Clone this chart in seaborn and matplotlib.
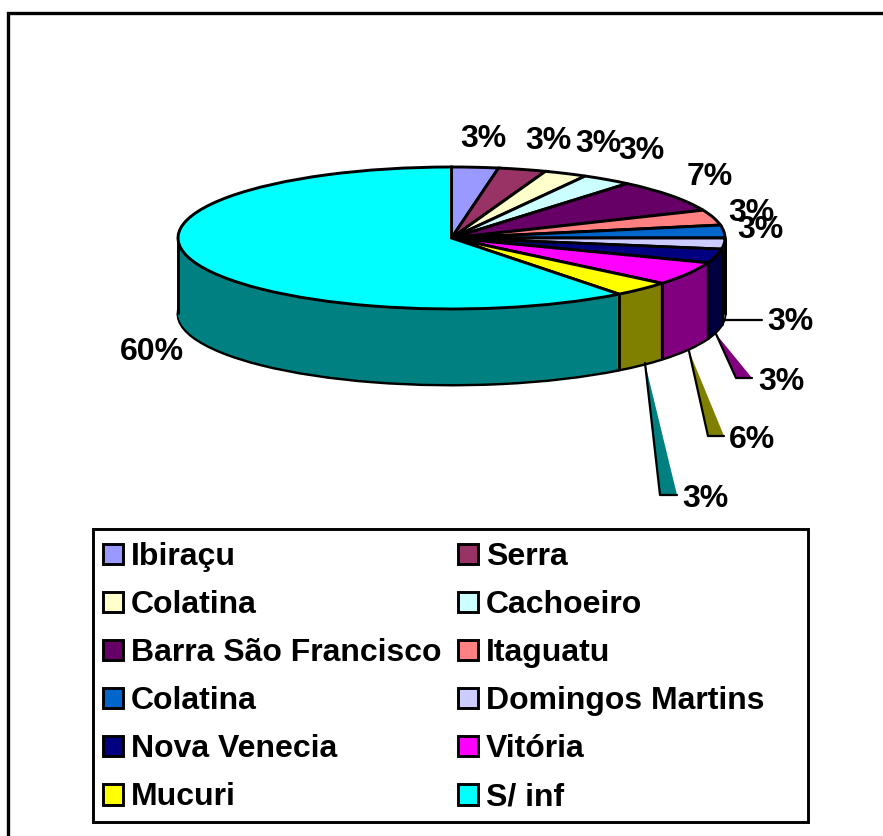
import matplotlib
matplotlib.use("Agg")
import matplotlib.pyplot as plt
from matplotlib.patches import Rectangle
import seaborn as sns
import numpy as np

sns.set_theme(style="white")
plt.rcParams["font.family"] = ["Liberation Sans", "DejaVu Sans"]

categories = ["Ibiraçu", "Serra", "Colatina", "Cachoeiro", "Barra São Francisco", "Itaguatu",
              "Colatina", "Domingos Martins", "Nova Venecia", "Vitória", "Mucuri", "S/ inf"]
values = [2.75, 2.83, 2.55, 2.97, 7.49, 3.49, 2.92, 2.50, 3.17, 5.35, 3.49, 60.49]
hex_colors = ["#9999FF", "#993366", "#FFFFCC", "#CCFFFF", "#660066", "#FF8080",
              "#0066CC", "#CCCCFF", "#000080", "#FF00FF", "#FFFF00", "#00FFFF"]
pct_labels = ["3%", "3%", "3%", "3%", "7%", "3%", "3%", "3%", "3%", "6%", "3%", "60%"]
# left edge / vertical centre of each percent label, in pixels
label_px = [(460, 139), (525, 141), (575, 144), (618, 151), (687, 177), (728, 213),
            (737, 230), (767, 322), (758, 382), (729, 440), (682, 499), (120, 352)]

W, H = 883, 836
CX, CY, RX, RY, DEPTH = 451.5, 238, 273.5, 71, 76
FS = 23
LW = 2.1
dark = "#000000"

palette = sns.color_palette(hex_colors)
wall = [tuple(c / 2 for c in col) for col in palette]

fig = plt.figure(figsize=(W / 100, H / 100), dpi=100, facecolor="white")
ax = fig.add_axes([0, 0, 1, 1])
depth_u = DEPTH / RY

# lower rim, then the extruded wall, then the lit top face
ax.pie(values, colors=wall, startangle=90, counterclock=False, center=(0, -depth_u),
       wedgeprops=dict(edgecolor=dark, linewidth=LW))
for k in np.arange(DEPTH - 1, 0, -1):
    ax.pie(values, colors=wall, startangle=90, counterclock=False, center=(0, -k / RY),
           wedgeprops=dict(edgecolor="none", linewidth=0))
top, _ = ax.pie(values, colors=palette, startangle=90, counterclock=False, center=(0, 0),
                wedgeprops=dict(edgecolor=dark, linewidth=LW))
for w in top:
    w.set_zorder(3)

# vertical seams on the visible wall
seams = {0.0, 180.0}
for w in top:
    for t in (w.theta1 % 360, w.theta2 % 360):
        if 180 <= t <= 360:
            seams.add(t)
for t in seams:
    x = np.cos(np.radians(t))
    y = np.sin(np.radians(t))
    ax.plot([x, x], [y, y - depth_u], color=dark, lw=LW, zorder=2, solid_capstyle="butt")

ax.set_aspect("auto")
ax.set_xlim((0 - CX) / RX, (W - CX) / RX)
ax.set_ylim((CY - H) / RY, CY / RY)
ax.axis("off")

# pixel overlay for leaders, labels and frame
ov = fig.add_axes([0, 0, 1, 1], zorder=5)
ov.set_xlim(0, W)
ov.set_ylim(H, 0)
ov.axis("off")
ov.patch.set_alpha(0)

ov.plot([8, 8, W], [H, 13, 13], color=dark, lw=2.4, solid_joinstyle="miter")

leaders = [
    ([645, 660, 677], [363, 495, 495], "#008080"),
    ([689, 708, 724], [351, 436, 436], "#808000"),
    ([716, 736, 752], [334, 378, 378], "#800080"),
]
for xs, ys, c in leaders:
    ov.fill(xs, ys, color=c, lw=0)
    ov.plot(xs, ys, color=dark, lw=1.6)
ov.plot([724, 762], [320, 320], color=dark, lw=1.6)

for txt, (x, y) in zip(pct_labels, label_px):
    ov.text(x, y, txt, fontsize=FS, fontweight="bold", color=dark, ha="left", va="center")

# legend frame and entries (two columns reading across rows)
ov.add_patch(Rectangle((93, 529), 715, 293, facecolor="white", edgecolor=dark, lw=LW, zorder=4))
order = [0, 2, 4, 6, 8, 10, 1, 3, 5, 7, 9, 11]
leg = ov.legend([top[i] for i in order], [categories[i] for i in order], ncol=2,
                loc="upper left", bbox_to_anchor=(92 / W, 1 - 531 / H),
                bbox_transform=fig.transFigure, borderaxespad=0,
                prop=dict(family="Liberation Sans", weight="bold", size=FS),
                labelcolor=dark, frameon=False,
                handlelength=0.62, handleheight=0.62, handletextpad=0.25,
                labelspacing=0.565, borderpad=0.35, columnspacing=0.53)
leg.set_zorder(6)

fig.savefig("out.png", dpi=100, facecolor="white")
